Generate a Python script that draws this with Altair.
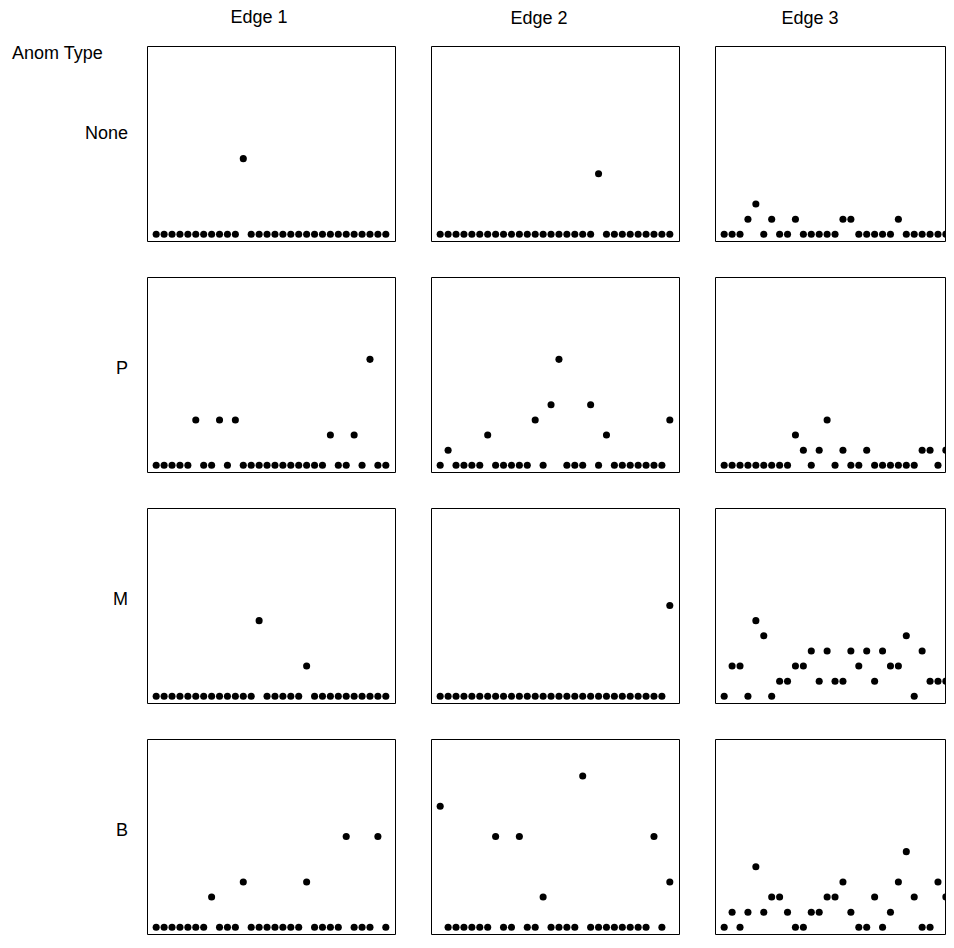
import altair as alt
import pandas as pd

edges = ["Edge 1", "Edge 2", "Edge 3"]
anom_types = ["None", "P", "M", "B"]
row_title = "Anom Type"
time_steps = list(range(1, 31))

# counts per time step (1..30) for each anomaly type / edge
none_e1 = [0, 0, 0, 0, 0, 0, 0, 0, 0, 0, 0, 5, 0, 0, 0, 0, 0, 0, 0, 0, 0, 0, 0, 0, 0, 0, 0, 0, 0, 0]
none_e2 = [0, 0, 0, 0, 0, 0, 0, 0, 0, 0, 0, 0, 0, 0, 0, 0, 0, 0, 0, 0, 4, 0, 0, 0, 0, 0, 0, 0, 0, 0]
none_e3 = [0, 0, 0, 1, 2, 0, 1, 0, 0, 1, 0, 0, 0, 0, 0, 1, 1, 0, 0, 0, 0, 0, 1, 0, 0, 0, 0, 0, 0, 0]

p_e1 = [0, 0, 0, 0, 0, 3, 0, 0, 3, 0, 3, 0, 0, 0, 0, 0, 0, 0, 0, 0, 0, 0, 2, 0, 0, 2, 0, 7, 0, 0]
p_e2 = [0, 1, 0, 0, 0, 0, 2, 0, 0, 0, 0, 0, 3, 0, 4, 7, 0, 0, 0, 4, 0, 2, 0, 0, 0, 0, 0, 0, 0, 3]
p_e3 = [0, 0, 0, 0, 0, 0, 0, 0, 0, 2, 1, 0, 1, 3, 0, 1, 0, 0, 1, 0, 0, 0, 0, 0, 0, 1, 1, 0, 1, 0]

m_e1 = [0, 0, 0, 0, 0, 0, 0, 0, 0, 0, 0, 0, 0, 5, 0, 0, 0, 0, 0, 2, 0, 0, 0, 0, 0, 0, 0, 0, 0, 0]
m_e2 = [0, 0, 0, 0, 0, 0, 0, 0, 0, 0, 0, 0, 0, 0, 0, 0, 0, 0, 0, 0, 0, 0, 0, 0, 0, 0, 0, 0, 0, 6]
m_e3 = [0, 2, 2, 0, 5, 4, 0, 1, 1, 2, 2, 3, 1, 3, 1, 1, 3, 2, 3, 1, 3, 2, 2, 4, 0, 3, 1, 1, 1, 2]

b_e1 = [0, 0, 0, 0, 0, 0, 0, 2, 0, 0, 0, 3, 0, 0, 0, 0, 0, 0, 0, 3, 0, 0, 0, 0, 6, 0, 0, 0, 6, 0]
b_e2 = [8, 0, 0, 0, 0, 0, 0, 6, 0, 0, 6, 0, 0, 2, 0, 0, 0, 0, 10, 0, 0, 0, 0, 0, 0, 0, 0, 6, 0, 3]
b_e3 = [0, 1, 0, 1, 4, 1, 2, 2, 1, 0, 0, 1, 1, 2, 2, 3, 1, 0, 0, 2, 0, 1, 3, 5, 2, 0, 0, 3, 2, 0]

grid = [
    [none_e1, none_e2, none_e3],
    [p_e1, p_e2, p_e3],
    [m_e1, m_e2, m_e3],
    [b_e1, b_e2, b_e3],
]

FONT = "Liberation Sans"
FS = 18
H = 195
W = 248
W_LAST = 230          # last column is cut off at the window edge, as in the reference
X_MIN = -0.16
STEP_PX = W / 31.32
HEADER_DX = [-12, -16, -20]

panels = []
for r, anom in enumerate(anom_types):
    for c, edge in enumerate(edges):
        vals = grid[r][c]
        d = pd.DataFrame({"t": time_steps, "v": vals})
        w = W if c < 2 else W_LAST
        x_max = X_MIN + w / STEP_PX
        pts = alt.Chart(d).mark_circle(size=50, color="black", opacity=1, clip=True).encode(
            x=alt.X("t:Q", scale=alt.Scale(domain=[X_MIN, x_max], nice=False, zero=False), axis=None),
            y=alt.Y("v:Q", scale=alt.Scale(domain=[-0.44, 12.44], nice=False, zero=False), axis=None),
        )
        layers = [pts]
        if c == 0:
            lab = alt.Chart(pd.DataFrame({"label": [anom]})).mark_text(
                align="right", baseline="middle", font=FONT, fontSize=FS, color="black",
                dy=-10 if r == 0 else -6,
            ).encode(text="label:N", x=alt.value(-19), y=alt.value(H / 2))
            layers.append(lab)
        if c == 0 and r == 0:
            ttl = alt.Chart(pd.DataFrame({"label": [row_title]})).mark_text(
                align="left", baseline="middle", font=FONT, fontSize=FS, color="black"
            ).encode(text="label:N", x=alt.value(-135), y=alt.value(8))
            layers.append(ttl)
        p = alt.layer(*layers).properties(width=w, height=H)
        if r == 0:
            p = p.properties(title=alt.TitleParams(
                text=edge, font=FONT, fontSize=FS, fontWeight="normal", color="black",
                anchor="middle", offset=18, dx=HEADER_DX[c],
            ))
        panels.append(p)

chart = alt.concat(
    *panels, columns=3, spacing={"row": 36, "column": 36}, bounds="flush"
).properties(
    padding={"left": 3, "top": 0, "right": 0, "bottom": 0}
).configure_view(
    stroke="black", strokeWidth=1, fill="white"
)

chart.save("out.html", embed_options={"renderer": "svg", "actions": False})
